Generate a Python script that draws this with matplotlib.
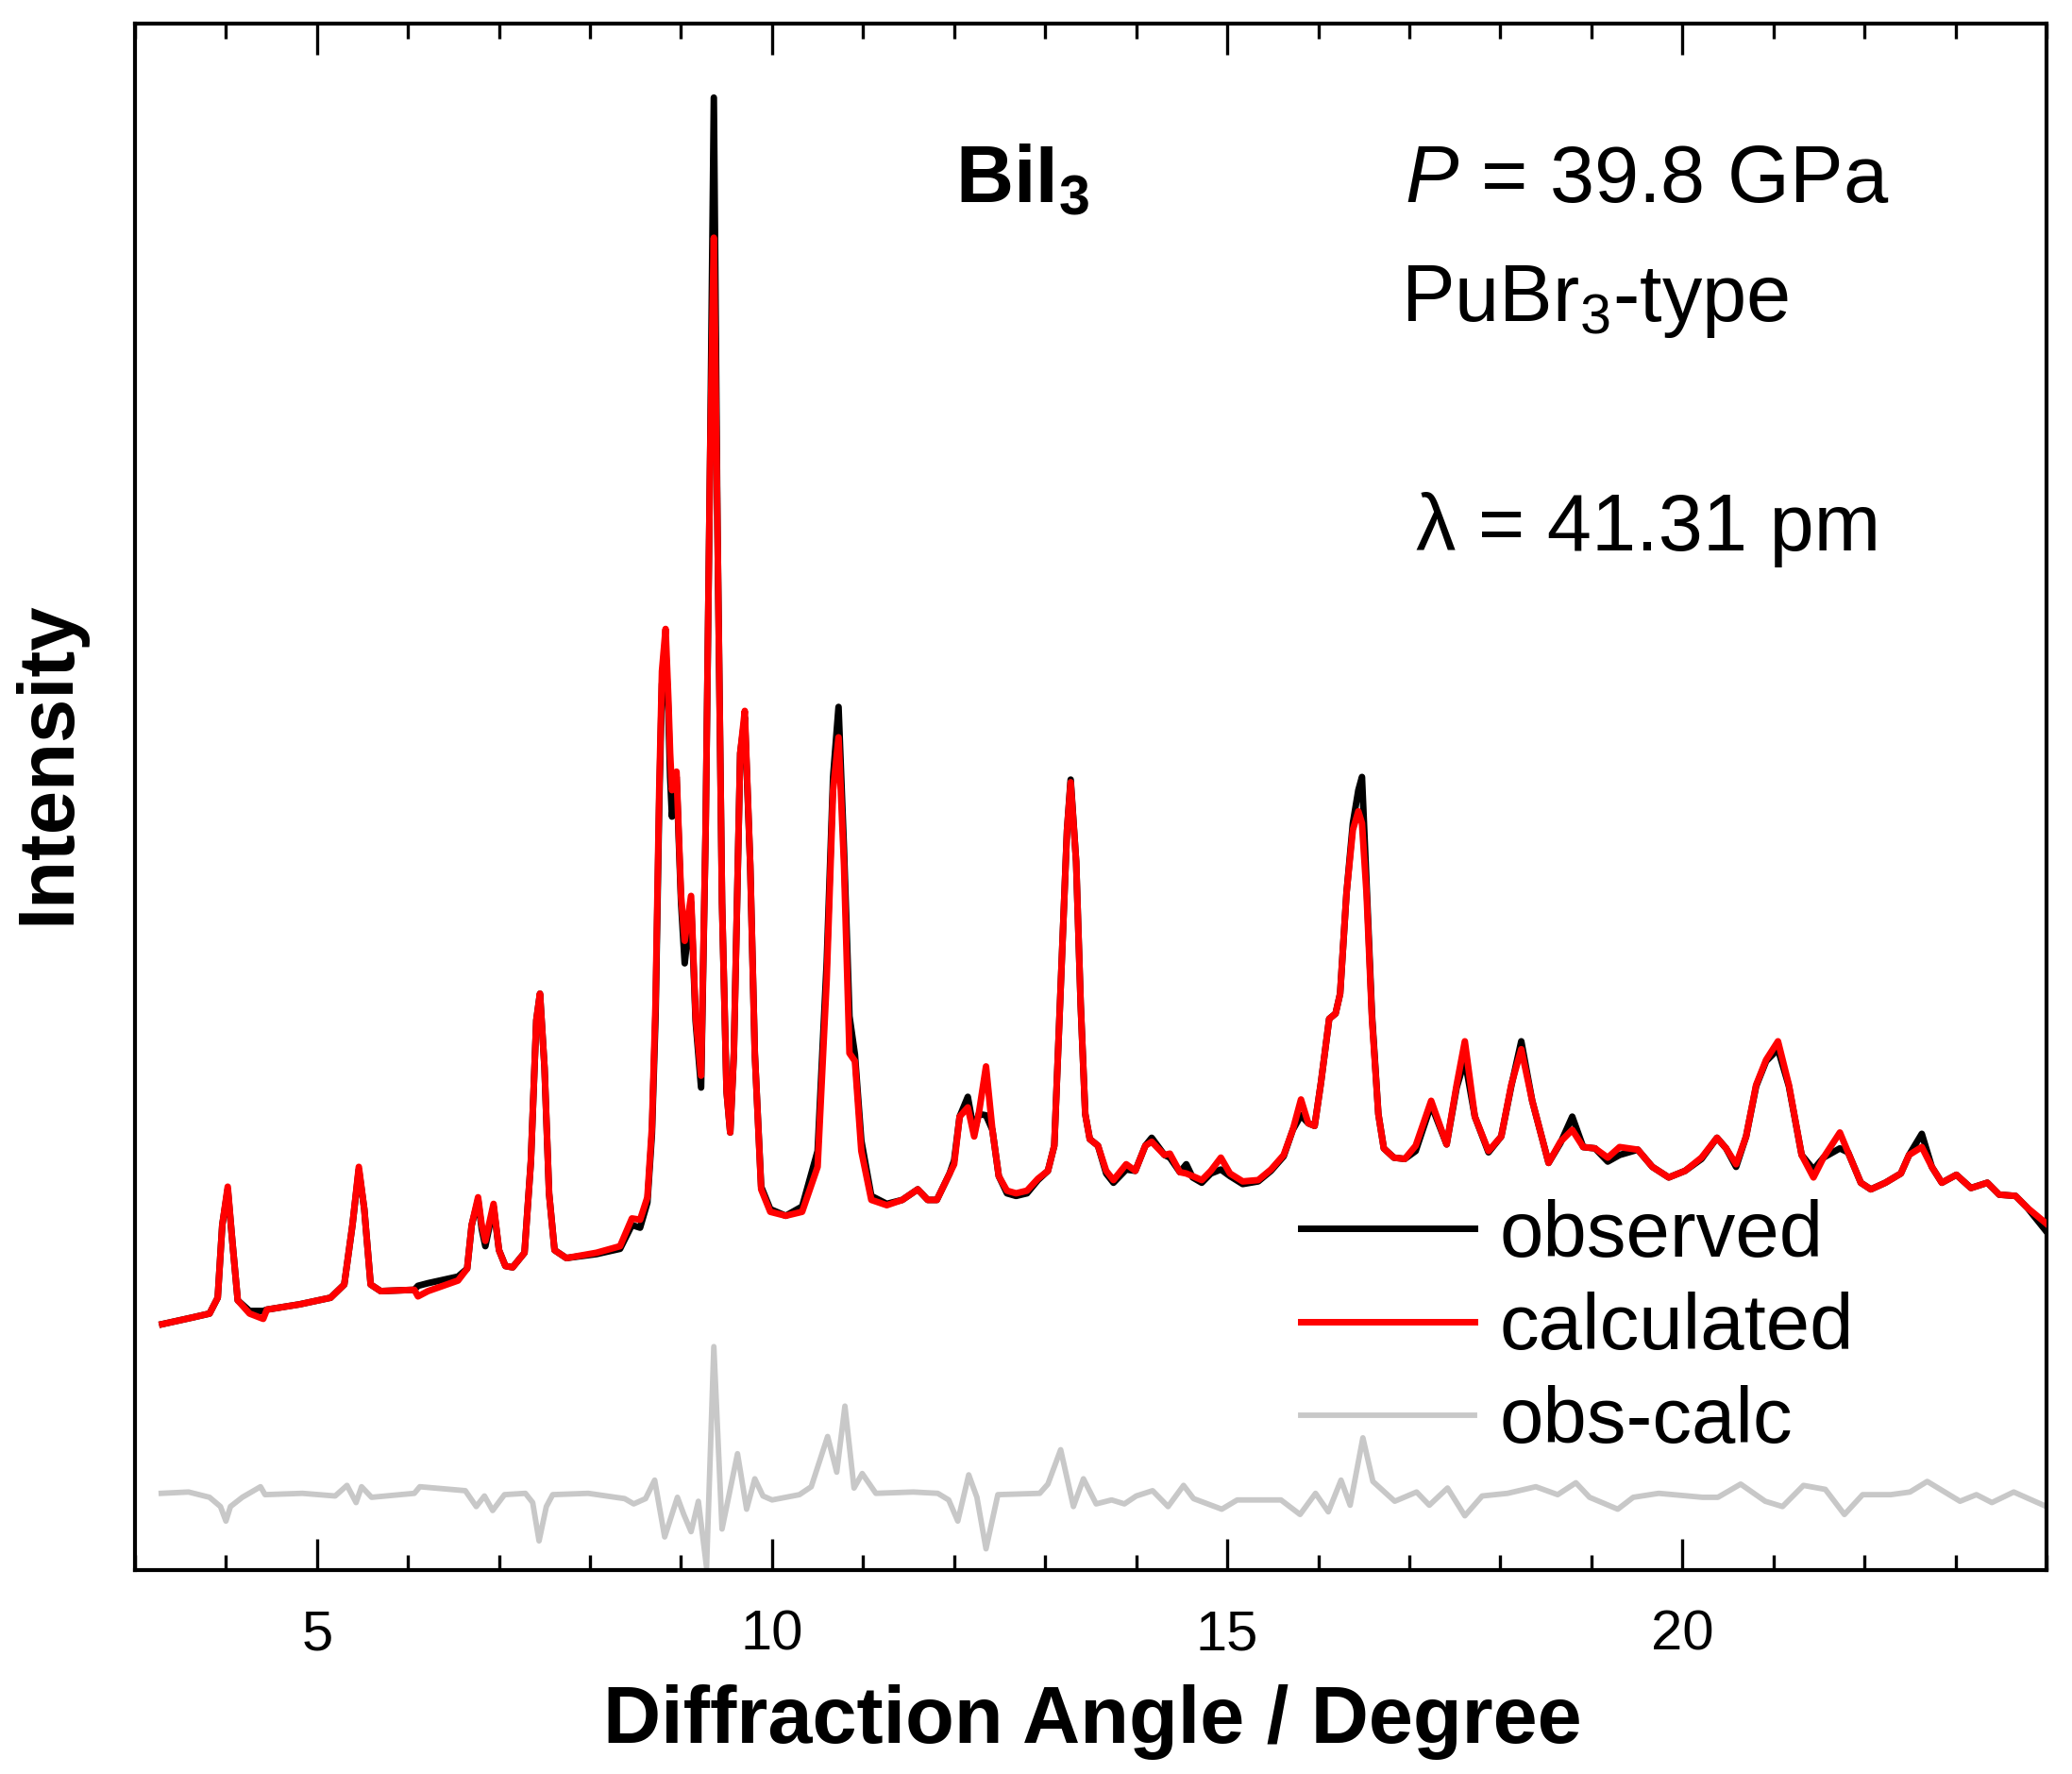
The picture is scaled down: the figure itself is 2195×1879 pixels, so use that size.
import numpy as np
import matplotlib
matplotlib.use('Agg')
import matplotlib.pyplot as plt
from matplotlib.ticker import MultipleLocator, NullLocator

# diffraction angle (deg) and intensities (arb. units)
angle = [3.30, 3.63, 3.82, 3.91, 3.96, 4.02, 4.07, 4.13, 4.26, 4.41, 4.45, 4.81, 5.15, 5.30,
         5.39, 5.46, 5.52, 5.59, 5.70, 6.07, 6.11, 6.22, 6.55, 6.65, 6.70, 6.77, 6.81, 6.85,
         6.94, 7.00, 7.07, 7.15, 7.28, 7.35, 7.41, 7.45, 7.50, 7.55, 7.61, 7.74, 8.07, 8.33,
         8.46, 8.55, 8.63, 8.68, 8.72, 8.76, 8.79, 8.83, 8.86, 8.88, 8.90, 8.95, 9.00, 9.04,
         9.11, 9.16, 9.22, 9.27, 9.32, 9.36, 9.40, 9.45, 9.50, 9.54, 9.58, 9.65, 9.70, 9.76,
         9.81, 9.88, 9.98, 10.15, 10.33, 10.50, 10.60, 10.67, 10.73, 10.79, 10.85, 10.91, 10.98,
         11.09, 11.26, 11.43, 11.60, 11.71, 11.81, 11.95, 12.00, 12.06, 12.15, 12.22, 12.27,
         12.35, 12.42, 12.49, 12.58, 12.68, 12.80, 12.92, 13.03, 13.10, 13.17, 13.24, 13.28,
         13.34, 13.39, 13.44, 13.49, 13.58, 13.67, 13.75, 13.89, 13.99, 14.10, 14.17, 14.31,
         14.37, 14.48, 14.55, 14.62, 14.72, 14.82, 14.93, 15.03, 15.17, 15.34, 15.48, 15.62,
         15.72, 15.81, 15.89, 15.96, 16.03, 16.12, 16.19, 16.24, 16.31, 16.38, 16.44, 16.48,
         16.53, 16.59, 16.66, 16.72, 16.83, 16.95, 17.07, 17.24, 17.41, 17.52, 17.61, 17.72,
         17.87, 18.01, 18.12, 18.23, 18.35, 18.53, 18.66, 18.79, 18.91, 19.04, 19.18, 19.31,
         19.51, 19.67, 19.85, 20.03, 20.21, 20.38, 20.48, 20.59, 20.70, 20.81, 20.92, 21.05,
         21.17, 21.31, 21.44, 21.55, 21.73, 21.82, 21.96, 22.07, 22.23, 22.40, 22.49, 22.63,
         22.74, 22.85, 23.01, 23.17, 23.35, 23.48, 23.66, 23.79, 24.00]

observed = [186, 191, 194, 206, 261, 288, 249, 204, 196, 196, 197, 201, 206, 216,
            261, 303, 273, 216, 211, 212, 215, 217, 222, 228, 261, 280, 258, 245,
            275, 242, 230, 229, 240, 309, 416, 436, 380, 285, 242, 236, 239, 243,
            261, 259, 278, 330, 420, 580, 670, 698, 650, 600, 570, 600, 505, 459,
            505, 415, 365, 561, 846, 1114, 789, 505, 362, 331, 391, 618, 645, 533,
            391, 290, 273, 268, 275, 317, 460, 600, 653, 545, 419, 390, 325,
            283, 277, 280, 288, 280, 280, 300, 310, 343, 358, 331, 345,
            344, 333, 298, 285, 283, 285, 295, 302, 321, 440, 560, 598,
            536, 428, 345, 326, 321, 300, 293, 303, 302, 321, 327, 314,
            312, 301, 307, 297, 293, 300, 303, 298, 292, 294, 302, 313,
            333, 344, 338, 336, 369, 417, 421, 436, 512, 565, 590, 600,
            520, 420, 345, 319, 312, 311, 317, 352, 322, 365, 386, 343,
            316, 328, 366, 400, 355, 308, 323, 343, 320, 319, 309, 314,
            318, 305, 297, 302, 311, 327, 319, 305, 328, 366, 385, 394,
            366, 314, 303, 312, 319, 316, 293, 288, 293, 300, 314, 330,
            305, 293, 299, 289, 293, 284, 283, 274, 256]

calculated = [186, 191, 194, 206, 261, 290, 249, 204, 194, 190, 197, 201, 206, 216,
              261, 305, 273, 216, 211, 212, 207, 211, 219, 228, 261, 282, 261, 249,
              277, 242, 230, 229, 240, 309, 416, 436, 380, 285, 242, 236, 240, 245,
              266, 265, 282, 335, 430, 590, 680, 712, 660, 618, 590, 604, 510, 476,
              510, 419, 374, 561, 846, 1008, 789, 505, 362, 331, 391, 618, 650, 533,
              391, 288, 271, 268, 271, 305, 447, 590, 630, 533, 391, 385, 317,
              280, 276, 280, 288, 280, 280, 300, 307, 343, 350, 328, 345,
              381, 333, 298, 287, 285, 287, 296, 302, 321, 440, 560, 596,
              536, 428, 345, 326, 321, 302, 295, 307, 302, 321, 324, 314,
              315, 301, 300, 298, 295, 302, 312, 300, 294, 295, 303, 314,
              333, 356, 338, 336, 369, 417, 421, 436, 512, 560, 574, 565,
              512, 417, 345, 319, 312, 311, 321, 355, 322, 367, 400, 343,
              317, 328, 367, 394, 355, 308, 324, 333, 320, 319, 312, 320,
              318, 305, 297, 302, 312, 327, 319, 307, 328, 367, 386, 400,
              367, 314, 297, 312, 331, 316, 293, 288, 293, 300, 314, 320,
              305, 293, 299, 289, 293, 284, 283, 274, 262]

diff_angle = [3.29, 3.59, 3.82, 3.94, 4.00, 4.05, 4.18, 4.38, 4.43, 4.84, 5.20, 5.33, 5.43,
              5.49, 5.60, 6.07, 6.13, 6.63, 6.75, 6.84, 6.93, 7.06, 7.29, 7.37, 7.44, 7.52,
              7.59, 7.98, 8.38, 8.48, 8.61, 8.71, 8.82, 8.96, 9.03, 9.11, 9.19, 9.28, 9.36,
              9.45, 9.62, 9.72, 9.81, 9.90, 10.00, 10.30, 10.43, 10.61, 10.71, 10.80, 10.90,
              10.99, 11.14, 11.55, 11.82, 11.94, 12.04, 12.16, 12.25, 12.35, 12.48, 12.94,
              13.03, 13.17, 13.31, 13.42, 13.56, 13.73, 13.87, 14.00, 14.18, 14.35, 14.52,
              14.63, 14.94, 15.11, 15.59, 15.80, 15.97, 16.11, 16.25, 16.35, 16.49, 16.60,
              16.84, 17.08, 17.22, 17.42, 17.61, 17.80, 18.08, 18.39, 18.63, 18.83, 18.98,
              19.29, 19.46, 19.74, 20.22, 20.39, 20.64, 20.91, 21.10, 21.33, 21.57, 21.78,
              21.98, 22.29, 22.50, 22.69, 23.05, 23.23, 23.40, 23.64, 24.00]

obs_calc = [58, 59, 55, 48, 37, 48, 55, 63, 57, 58, 56, 64, 51,
            63, 55, 58, 63, 60, 48, 56, 45, 57, 58, 51, 22, 48,
            57, 58, 54, 50, 54, 68, 25, 55, 42, 29, 52, 2, 169,
            31, 88, 46, 69, 56, 53, 57, 63, 101, 74, 124, 62,
            73, 58, 59, 58, 53, 37, 72, 55, 16, 57, 58,
            65, 91, 48, 69, 50, 53, 50, 56, 60, 48, 64,
            54, 46, 53, 53, 42, 58, 44, 68, 49, 100, 67,
            52, 59, 49, 62, 41, 56, 58, 63, 57, 66, 55,
            46, 55, 58, 55, 55, 65, 52, 48, 64, 61, 42,
            57, 57, 59, 67, 52, 57, 51, 59, 48]

plt.rcParams['font.family'] = ['Liberation Sans', 'DejaVu Sans']
plt.rcParams['mathtext.fontset'] = 'custom'
plt.rcParams['mathtext.rm'] = 'Liberation Sans'
plt.rcParams['mathtext.it'] = 'Liberation Sans:italic'
plt.rcParams['mathtext.bf'] = 'Liberation Sans:bold'

fig = plt.figure(figsize=(21.95, 18.79), dpi=100)
ax = fig.add_axes([0.0651, 0.115, 0.9226, 0.8717])

ax.plot(angle, observed, color='black', lw=5, label='observed', zorder=3,
        solid_joinstyle='round')
ax.plot(angle, calculated, color='#ff0000', lw=5, label='calculated', zorder=4,
        solid_joinstyle='round')
ax.plot(diff_angle, obs_calc, color='#c8c8c8', lw=4.2, label='obs-calc', zorder=2,
        solid_joinstyle='round')

ax.set_xlim(3, 24)
ax.set_ylim(0, 1170)
ax.xaxis.set_major_locator(MultipleLocator(5))
ax.xaxis.set_minor_locator(MultipleLocator(1))
ax.yaxis.set_major_locator(NullLocator())
ax.tick_params(axis='x', which='both', direction='in', top=True, width=2.4,
               labelsize=43, pad=30)
ax.tick_params(axis='x', which='major', length=24)
ax.tick_params(axis='x', which='minor', length=11.5)
for s in ax.spines.values():
    s.set_linewidth(3)

ax.set_xlabel('Diffraction Angle / Degree', fontsize=61, fontweight='bold')
ax.xaxis.set_label_coords(0.501, -0.074)
ax.set_ylabel('Intensity', fontsize=60, fontweight='bold')
ax.yaxis.set_label_coords(-0.026, 0.522)

ax.text(0.429, 0.898, r'$\mathbf{BiI_3}$', transform=ax.transAxes, fontsize=61,
        va='center', ha='left')
ax.text(0.664, 0.898, r'$\mathit{P}$ = 39.8 GPa', transform=ax.transAxes, fontsize=61,
        va='center', ha='left')
ax.text(0.662, 0.82, r'PuBr$_3$-type', transform=ax.transAxes, fontsize=61,
        va='center', ha='left')
ax.text(0.670, 0.673, 'λ = 41.31 pm', transform=ax.transAxes, fontsize=61,
        va='center', ha='left')

ax.legend(loc='center left', bbox_to_anchor=(0.61, 0.156), frameon=False,
          fontsize=60, handlelength=2.2, handletextpad=0.32, labelspacing=0.25,
          borderpad=0, borderaxespad=0)

fig.savefig('out.png', dpi=100)
